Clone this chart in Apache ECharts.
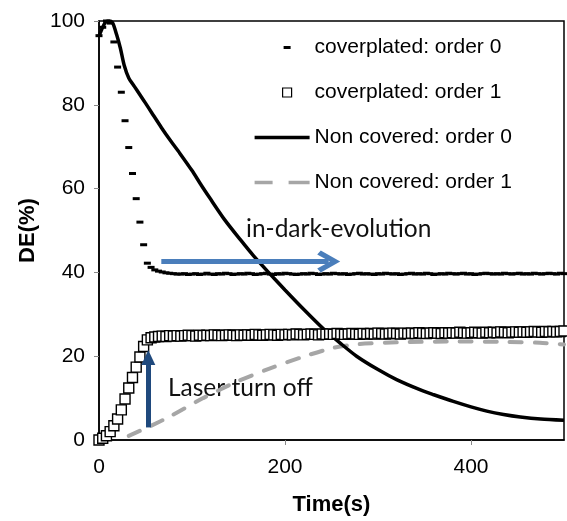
<!DOCTYPE html>
<html>
<head>
<meta charset="utf-8">
<script src="https://cdn.jsdelivr.net/npm/echarts@6/dist/echarts.min.js"></script>
<style>
  html, body { margin: 0; padding: 0; background: #fff; }
  #chart { width: 567px; height: 521px; }
</style>
</head>
<body>
<div id="chart"></div>
<script>
// Diffraction efficiency (%) versus time (s); the laser is switched off near t = 50 s.
const seriesNames = [
  'coverplated: order 0',
  'coverplated: order 1',
  'Non covered: order 0',
  'Non covered: order 1'
];

// [time (s), DE (%)]
const coverplatedOrder0 = [
  [0,96.5],[4,98.5],[8,100],[12,99.5],[16,95],[20,89],[24,83],[28,76.2],[32,69.8],[36,63.6],
  [40,57.6],[44,52],[48,46.6],[52,42.2],[56,41.2],[60,40.6],[64,40.3],[68,40.1],[72,39.9],[76,39.8],
  [80,39.7],[84,39.6],[88,39.6],[92,39.7],[96,39.5],[100,39.6],[104,39.7],[108,39.5],[112,39.6],[116,39.8],
  [120,39.6],[124,39.5],[128,39.7],[132,39.6],[136,39.8],[140,39.7],[144,39.5],[148,39.6],[152,39.7],[156,39.6],
  [160,39.8],[164,39.7],[168,39.5],[172,39.6],[176,39.7],[180,39.8],[184,39.6],[188,39.5],[192,39.7],[196,39.6],
  [200,39.8],[204,39.7],[208,39.6],[212,39.5],[216,39.6],[220,39.7],[224,39.6],[228,39.8],[232,39.7],[236,39.5],
  [240,39.6],[244,39.7],[248,39.6],[252,39.8],[256,39.7],[260,39.6],[264,39.7],[268,39.5],[272,39.6],[276,39.7],
  [280,39.8],[284,39.6],[288,39.7],[292,39.6],[296,39.5],[300,39.7],[304,39.6],[308,39.8],[312,39.7],[316,39.6],
  [320,39.7],[324,39.5],[328,39.6],[332,39.7],[336,39.8],[340,39.6],[344,39.7],[348,39.6],[352,39.8],[356,39.7],
  [360,39.5],[364,39.6],[368,39.7],[372,39.6],[376,39.8],[380,39.7],[384,39.6],[388,39.7],[392,39.8],[396,39.6],
  [400,39.7],[404,39.5],[408,39.6],[412,39.7],[416,39.8],[420,39.7],[424,39.6],[428,39.7],[432,39.6],[436,39.8],
  [440,39.7],[444,39.6],[448,39.7],[452,39.8],[456,39.6],[460,39.7],[464,39.6],[468,39.8],[472,39.7],[476,39.6],
  [480,39.7],[484,39.8],[488,39.7],[492,39.6],[496,39.8],[500,39.7]
];

const coverplatedOrder1 = [
  [0,0],[4,0.4],[8,1.0],[12,2.0],[16,3.4],[20,5.0],[24,7.2],[28,9.8],[32,12.4],[36,14.9],
  [40,17.4],[44,19.8],[48,22.3],[52,23.9],[56,24.4],[60,24.6],[64,24.7],[68,24.8],[72,24.7],[76,24.9],
  [80,24.8],[84,24.9],[88,24.8],[92,24.9],[96,25.0],[100,24.9],[104,24.8],[108,25.0],[112,24.9],[116,25.0],
  [120,24.9],[124,25.1],[128,25.0],[132,24.9],[136,25.0],[140,25.1],[144,25.0],[148,24.9],[152,25.1],[156,25.0],
  [160,25.1],[164,25.0],[168,25.2],[172,25.1],[176,25.0],[180,25.1],[184,25.2],[188,25.1],[192,25.0],[196,25.2],
  [200,25.1],[204,25.2],[208,25.1],[212,25.3],[216,25.2],[220,25.1],[224,25.2],[228,25.3],[232,25.2],[236,25.1],
  [240,25.3],[244,25.2],[248,25.3],[252,25.2],[256,25.4],[260,25.3],[264,25.2],[268,25.3],[272,25.4],[276,25.3],
  [280,25.2],[284,25.4],[288,25.3],[292,25.4],[296,25.3],[300,25.5],[304,25.4],[308,25.3],[312,25.4],[316,25.5],
  [320,25.4],[324,25.3],[328,25.5],[332,25.4],[336,25.5],[340,25.4],[344,25.6],[348,25.5],[352,25.4],[356,25.5],
  [360,25.6],[364,25.5],[368,25.4],[372,25.6],[376,25.5],[380,25.6],[384,25.5],[388,25.7],[392,25.6],[396,25.5],
  [400,25.6],[404,25.7],[408,25.6],[412,25.5],[416,25.7],[420,25.6],[424,25.7],[428,25.6],[432,25.8],[436,25.7],
  [440,25.6],[444,25.7],[448,25.8],[452,25.7],[456,25.8],[460,25.7],[464,25.8],[468,25.9],[472,25.8],[476,25.7],
  [480,25.9],[484,25.8],[488,25.9],[492,25.8],[496,25.9],[500,26.0]
];

const nonCoveredOrder0 = [
  [0,96.4],[3,98],[6,99.4],[9,100],[12,100],[15,99.4],[19,96.7],[23,93.5],[27,89.5],[32,86.4],
  [38,84.4],[44,82.4],[50,80.4],[57,78.0],[67,74.6],[77,71.4],[87,68.4],[100,64.3],[110,60.8],[119,57.8],
  [135,52.6],[152,47.8],[166,44],[184,39.6],[200,35.8],[220,31.2],[241,26.6],[260,23],[277,20],[300,16.8],
  [320,14.4],[345,12.0],[360,10.8],[381,9.2],[400,7.9],[417,6.9],[435,6.1],[453,5.5],[475,5.0],[500,4.7]
];

const nonCoveredOrder1 = [
  [32,1.0],[55,3.3],[76,5.6],[112,10],[148,13.9],[184,17.1],[220,19.9],[252,22.0],[280,22.9],[320,23.3],
  [380,23.5],[440,23.4],[474,23.2],[500,22.8]
];

const xTicks = [0, 200, 400];
const yTicks = [0, 20, 40, 60, 80, 100];

// Annotation arrows, in data coordinates: [start, end]
const darkArrow = [[67, 42.6], [247, 42.6]];
const laserArrow = [[53, 3.0], [53, 19.7]];
const darkText = 'in-dark-evolution';
const laserText = 'Laser turn off';

const AXIS_FONT = "'Liberation Sans', Arial, sans-serif";
const NOTE_FONT = "Lato, 'Open Sans', sans-serif";

const chart = echarts.init(document.getElementById('chart'), null, { renderer: 'canvas' });

function arrowSeries(points, color, headSymbol, headSize) {
  return {
    type: 'line',
    data: [],
    z: 6,
    silent: true,
    markLine: {
      silent: true,
      animation: false,
      symbol: ['none', headSymbol],
      symbolSize: headSize,
      label: { show: false },
      emphasis: { disabled: true },
      lineStyle: { color: color, width: 5, type: 'solid', opacity: 1 },
      data: [[{ coord: points[0] }, { coord: points[1] }]]
    }
  };
}

chart.setOption({
  animation: false,
  backgroundColor: '#fff',
  grid: {
    left: 99, right: 3, top: 21, bottom: 79,
    show: true, borderColor: '#000', borderWidth: 1.5, backgroundColor: 'transparent'
  },
  legend: {
    orient: 'vertical',
    left: 249,
    top: 32,
    itemWidth: 55,
    itemHeight: 14,
    itemGap: 24,
    selectedMode: false,
    textStyle: { fontFamily: AXIS_FONT, fontSize: 21, color: '#000' },
    data: [
      { name: seriesNames[0], icon: 'path://M0 0M55 14M29 5.5h7v3h-7Z',
        itemStyle: { color: '#000', borderWidth: 0 } },
      { name: seriesNames[1], icon: 'path://M0 0M55 14M28 2.5h9v9h-9Z',
        itemStyle: { color: '#fff', borderColor: '#000', borderWidth: 1.2 } },
      { name: seriesNames[2], icon: 'path://M2 5.5h55v3.5h-55Z',
        itemStyle: { color: '#000', borderWidth: 0 } },
      { name: seriesNames[3], icon: 'path://M2 5.2h18v3.6h-18Z M36 5.2h21v3.6h-21Z',
        itemStyle: { color: '#a6a6a6', borderWidth: 0 } }
    ]
  },
  xAxis: {
    type: 'value',
    min: 0, max: 500, interval: 200,
    name: 'Time(s)',
    nameLocation: 'middle',
    nameGap: 54,
    nameTextStyle: { fontFamily: AXIS_FONT, fontSize: 22, fontWeight: 'bold', color: '#000' },
    axisLine: { show: true, onZero: false, lineStyle: { color: '#000', width: 1.5 } },
    axisTick: { show: true, inside: false, length: 5, customValues: xTicks, lineStyle: { color: '#888', width: 1 } },
    axisLabel: { fontFamily: AXIS_FONT, fontSize: 21, color: '#000', margin: 17, customValues: xTicks },
    splitLine: { show: false }
  },
  yAxis: {
    type: 'value',
    min: 0, max: 100, interval: 20,
    name: 'DE(%)',
    nameLocation: 'middle',
    nameGap: 57,
    nameTextStyle: { fontFamily: AXIS_FONT, fontSize: 22, fontWeight: 'bold', color: '#000' },
    axisLine: { show: true, onZero: false, lineStyle: { color: '#000', width: 1.5 } },
    axisTick: { show: true, inside: false, length: 5, customValues: yTicks, lineStyle: { color: '#888', width: 1 } },
    axisLabel: { fontFamily: AXIS_FONT, fontSize: 21, color: '#000', margin: 14, customValues: yTicks },
    splitLine: { show: false }
  },
  series: [
    {
      name: seriesNames[3],
      type: 'line',
      data: nonCoveredOrder1,
      symbol: 'none',
      smooth: 0.25,
      z: 1,
      silent: true,
      lineStyle: { color: '#a6a6a6', width: 4, type: [12, 13], cap: 'round' },
      itemStyle: { color: '#a6a6a6' }
    },
    {
      name: seriesNames[2],
      type: 'line',
      data: nonCoveredOrder0,
      symbol: 'none',
      smooth: 0.25,
      z: 2,
      silent: true,
      lineStyle: { color: '#000', width: 3.5 },
      itemStyle: { color: '#000' }
    },
    {
      name: seriesNames[1],
      type: 'scatter',
      data: coverplatedOrder1,
      symbol: 'rect',
      symbolSize: 10,
      clip: false,
      z: 3,
      silent: true,
      itemStyle: { color: '#fff', borderColor: '#000', borderWidth: 1.4, opacity: 1 }
    },
    {
      name: seriesNames[0],
      type: 'scatter',
      data: coverplatedOrder0,
      symbol: 'rect',
      symbolSize: [7, 3],
      z: 4,
      silent: true,
      itemStyle: { color: '#000', opacity: 1 }
    },
    arrowSeries(darkArrow, '#4a7ebb', 'path://M11 0L22 19L18 22.5L11 10L4 22.5L0 19Z', [22, 23]),
    arrowSeries(laserArrow, '#1f497d', 'triangle', [14, 15])
  ],
  graphic: [
    { type: 'text', x: 246, y: 229, silent: true,
      style: { text: darkText, fontFamily: NOTE_FONT, fontSize: 24.5, fill: '#111', verticalAlign: 'middle' } },
    { type: 'text', x: 168, y: 388, silent: true,
      style: { text: laserText, fontFamily: NOTE_FONT, fontSize: 24.5, fill: '#111', verticalAlign: 'middle' } }
  ]
});
</script>
</body>
</html>
